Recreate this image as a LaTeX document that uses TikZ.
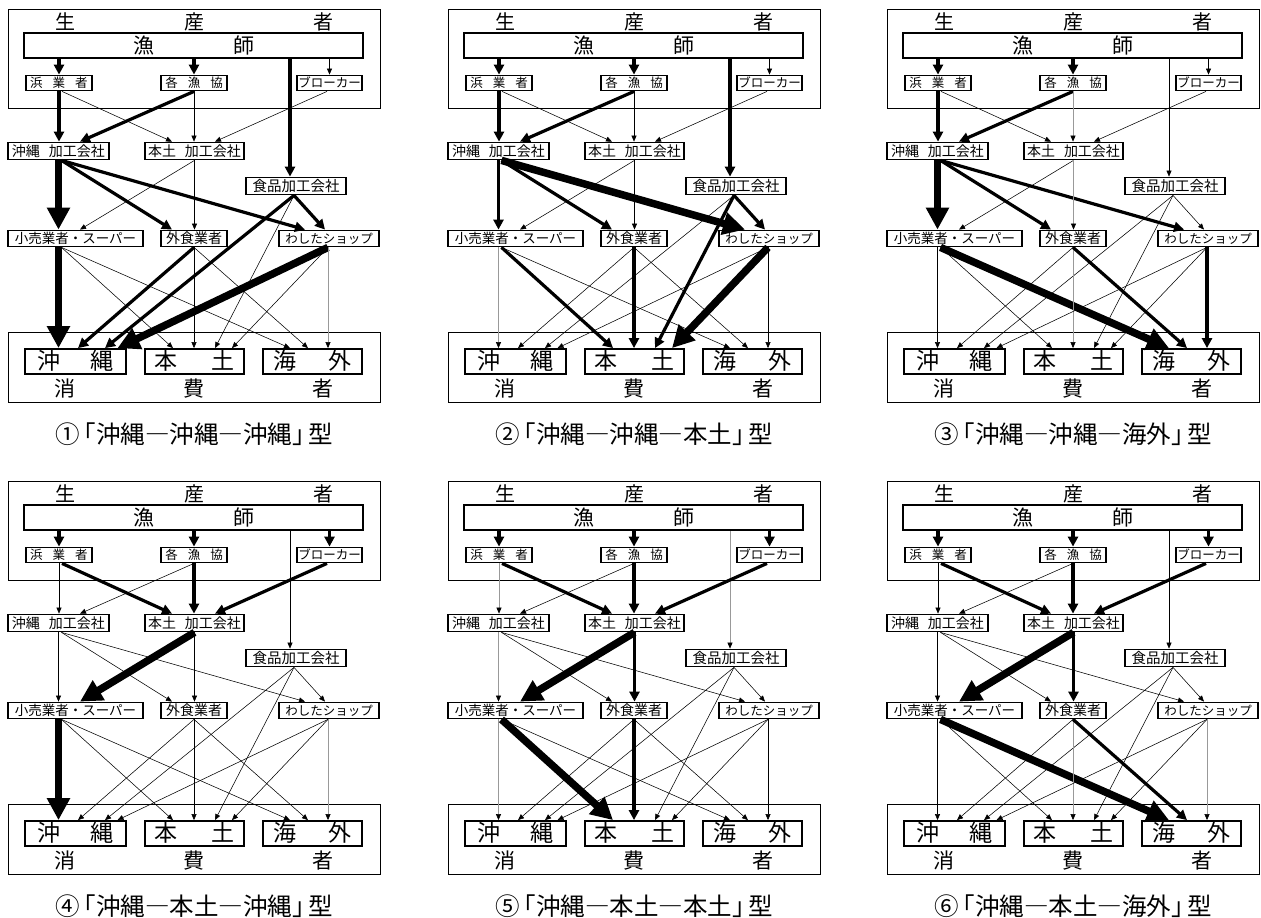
\documentclass[tikz,border=0pt]{standalone}
\usepackage{fontspec}
\setmainfont{Noto Sans CJK JP}
\usetikzlibrary{arrows.meta,calc}
\newcommand\myfs[1]{\fontsize{#1}{#1}\selectfont}
\tikzset{
  ln/.style={line width=0.55pt,-{Triangle[length=6pt,width=5pt]}},
  gr/.style={line width=0.6pt,draw=black!40,-{Triangle[length=6pt,width=5pt,color=black]}},
  tk/.style={line width=3.2pt,-{Triangle[length=10pt,width=10pt]}},
  vtk/.style={line width=7.5pt,-{Triangle[length=22pt,width=22pt]}},
  sbox/.style={draw,line width=1.8pt,fill=white,inner sep=0pt},
  obox/.style={draw,line width=0.9pt,inner sep=0pt},
  txt/.style={inner sep=0pt},
  q1/.style=ln,q2/.style=ln,q3/.style=ln,q4/.style=ln,q5/.style=ln,q6/.style=ln,
  q7/.style=ln,q8/.style=ln,q9/.style=ln,q10/.style=ln,q11/.style=ln,q12/.style=ln,
  q13/.style=ln,q14/.style=ln,q15/.style=ln,q16/.style=ln,q17/.style=ln,q18/.style=ln,
  q19/.style=ln,q20/.style=ln,q21/.style=ln,q22/.style=ln,q23/.style=ln,q24/.style=ln,
  q25/.style=ln,q26/.style=ln
}
\newcommand\panel[6]{%
\begin{scope}[shift={(#2,#3)}]
\tikzset{#6}
% producer
\node[obox,minimum width=372pt,minimum height=99pt] (#1P) at (194,58.5) {};
\node[txt] (#1Pt) at (194,21.5) {\myfs{20pt}生\hspace{109pt}産\hspace{109pt}者};
\node[sbox,line width=2.2pt,minimum width=339pt,minimum height=25pt,text height=18pt,text depth=3pt] (#1G) at (193.5,45.5) {\myfs{21pt}漁\hspace{79pt}師};
\node[sbox,minimum width=66pt,minimum height=15pt,text height=11pt,text depth=1.5pt] (#1H) at (59,83) {\myfs{12.5pt}浜\hspace{10pt}業\hspace{10pt}者};
\node[sbox,minimum width=66pt,minimum height=15pt,text height=11pt,text depth=1.5pt] (#1K) at (194,83) {\myfs{12.5pt}各\hspace{10pt}漁\hspace{10pt}協};
\node[sbox,minimum width=65pt,minimum height=15pt,text height=11pt,text depth=1.5pt] (#1B) at (329.5,83) {\myfs{12.5pt}ブローカー};
% processors
\node[sbox,minimum width=101pt,minimum height=17pt,text height=12pt,text depth=2pt] (#1OK) at (58.5,151) {\myfs{14pt}沖縄\hspace{9pt}加工会社};
\node[sbox,minimum width=99pt,minimum height=17pt,text height=12pt,text depth=2pt] (#1HK) at (194.5,151) {\myfs{14pt}本土\hspace{9pt}加工会社};
\node[sbox,minimum width=100pt,minimum height=17pt,text height=12pt,text depth=2pt] (#1S) at (296,186) {\myfs{14.5pt}食品加工会社};
% retailers
\node[sbox,minimum width=135pt,minimum height=16pt,text height=12pt,text depth=2pt] (#1R) at (75.5,238.5) {\myfs{13.5pt}小売業者・スーパー};
\node[sbox,minimum width=66pt,minimum height=16pt,text height=12pt,text depth=2pt] (#1E) at (194,238.5) {\myfs{14pt}外食業者};
\node[sbox,minimum width=100pt,minimum height=16pt,text height=12pt,text depth=2pt] (#1W) at (329,238.5) {\myfs{12.5pt}わしたショップ};
% consumers
\node[obox,minimum width=372pt,minimum height=70pt] (#1C) at (194,367) {};
\node[sbox,minimum width=101pt,minimum height=25pt,text height=19pt,text depth=3pt] (#1CO) at (75.5,361.5) {\myfs{23pt}沖\hspace{30pt}縄};
\node[sbox,minimum width=99pt,minimum height=25pt,text height=19pt,text depth=3pt] (#1CH) at (194.5,361.5) {\myfs{23pt}本\hspace{34pt}土};
\node[sbox,minimum width=99pt,minimum height=25pt,text height=19pt,text depth=3pt] (#1CK) at (312.5,361.5) {\myfs{23pt}海\hspace{32pt}外};
\node[txt] (#1Ct) at (194,389) {\myfs{21pt}消\hspace{108pt}費\hspace{108pt}者};
\node[txt] (#1cap) at (194,#5) {\myfs{24.5pt}#4};
% connectors
\draw[q1] (#1G.south -| #1H.north) -- (#1H.north);
\draw[q2] (#1G.south -| #1K.north) -- (#1K.north);
\draw[q3] (#1G.south -| #1B.north) -- (#1B.north);
\coordinate (#1s4) at ([xshift=-6pt]#1S.north);
\draw[q4] (#1G.south -| #1s4) -- (#1s4);
\draw[q5] (#1H.south) -- (#1H.south |- #1OK.north);
\draw[q6] ([xshift=3pt]#1H.south) -- ([xshift=-22.5pt]#1HK.north);
\draw[q7] (#1K.south) -- ([xshift=21.5pt]#1OK.north);
\draw[q8] (#1K.south) -- (#1K.south |- #1HK.north);
\draw[q9] ([xshift=-2.5pt]#1B.south) -- ([xshift=20.5pt]#1HK.north);
\draw[q10] (#1OK.south) -- (#1OK.south |- #1R.north);
\draw[q11] ([xshift=3pt]#1OK.south) -- ([xshift=-22pt]#1E.north);
\draw[q12] ([xshift=3pt]#1OK.south) -- ([xshift=-24pt]#1W.north);
\draw[q13] (#1HK.south) -- ([xshift=4.5pt]#1R.north);
\draw[q14] (#1HK.south) -- (#1HK.south |- #1E.north);
\draw[q15] ([xshift=-2pt]#1S.south) -- ([xshift=-4pt]#1W.north);
\draw[q16] ([xshift=-2pt]#1S.south) -- ([xshift=29.5pt]#1CO.north);
\draw[q17] ([xshift=-2pt]#1S.south) -- ([xshift=20.5pt]#1CH.north);
\coordinate (#1r0) at ([xshift=-17pt]#1R.south);
\draw[q18] (#1r0) -- (#1r0 |- #1CO.north);
\draw[q19] ([xshift=-14pt]#1R.south) -- ([xshift=-21.5pt]#1CH.north);
\draw[q20] ([xshift=-14pt]#1R.south) -- ([xshift=-22.5pt]#1CK.north);
\draw[q21] (#1E.south) -- ([xshift=2.5pt]#1CO.north);
\draw[q22] (#1E.south) -- (#1E.south |- #1CH.north);
\draw[q23] (#1E.south) -- ([xshift=-4.5pt]#1CK.north);
\coordinate (#1w0) at ([xshift=-1pt]#1W.south);
\draw[q24] (#1w0) -- ([xshift=42pt]#1CO.north);
\draw[q25] (#1w0) -- ([xshift=37.5pt]#1CH.north);
\draw[q26] (#1w0) -- (#1w0 |- #1CK.north);
\end{scope}}

\begin{document}
\begin{tikzpicture}[x=1pt,y=-1pt]
\useasboundingbox[fill=white] (0,0) rectangle (1261,918);
\panel{a}{0}{0}{①\hspace{-8pt}「沖縄―沖縄―沖縄」\hspace{-8pt}型}{434}{q1/.style=tk,q2/.style=tk,q4/.style=tk,q5/.style=tk,q7/.style=tk,q10/.style=vtk,q11/.style=tk,q12/.style=tk,q15/.style=tk,q16/.style=tk,q18/.style=vtk,q21/.style=tk,q24/.style=vtk,q26/.style=gr}
\panel{b}{440}{0}{②\hspace{-8pt}「沖縄―沖縄―本土」\hspace{-8pt}型}{434}{q1/.style=tk,q2/.style=tk,q4/.style=tk,q5/.style=tk,q7/.style=tk,q10/.style=tk,q11/.style=tk,q12/.style=vtk,q15/.style=tk,q17/.style=tk,q18/.style=gr,q19/.style=tk,q22/.style=tk,q25/.style=vtk}
\panel{c}{879}{0}{③\hspace{-8pt}「沖縄―沖縄―海外」\hspace{-8pt}型}{434}{q1/.style=tk,q2/.style=tk,q5/.style=tk,q7/.style=tk,q8/.style=gr,q10/.style=vtk,q11/.style=tk,q12/.style=tk,q14/.style=gr,q20/.style=vtk,q22/.style=gr,q23/.style=tk,q26/.style=tk}
\panel{d}{0}{472}{④\hspace{-8pt}「沖縄―本土―沖縄」\hspace{-8pt}型}{434}{q1/.style=tk,q2/.style=tk,q3/.style=tk,q6/.style=tk,q8/.style=tk,q9/.style=tk,q13/.style=vtk,q18/.style=vtk,q26/.style=gr}
\panel{e}{440}{472}{⑤\hspace{-8pt}「沖縄―本土―本土」\hspace{-8pt}型}{434}{q1/.style=tk,q2/.style=tk,q3/.style=tk,q4/.style=gr,q5/.style=gr,q6/.style=tk,q8/.style=tk,q9/.style=tk,q10/.style=gr,q13/.style=vtk,q14/.style=tk,q18/.style=gr,q19/.style=vtk,q22/.style=tk}
\panel{f}{879}{472}{⑥\hspace{-8pt}「沖縄―本土―海外」\hspace{-8pt}型}{434}{q1/.style=tk,q2/.style=tk,q3/.style=tk,q6/.style=tk,q8/.style=tk,q9/.style=tk,q13/.style=vtk,q14/.style=tk,q20/.style=vtk,q22/.style=gr,q23/.style=tk,q26/.style=gr}
\end{tikzpicture}
\end{document}
